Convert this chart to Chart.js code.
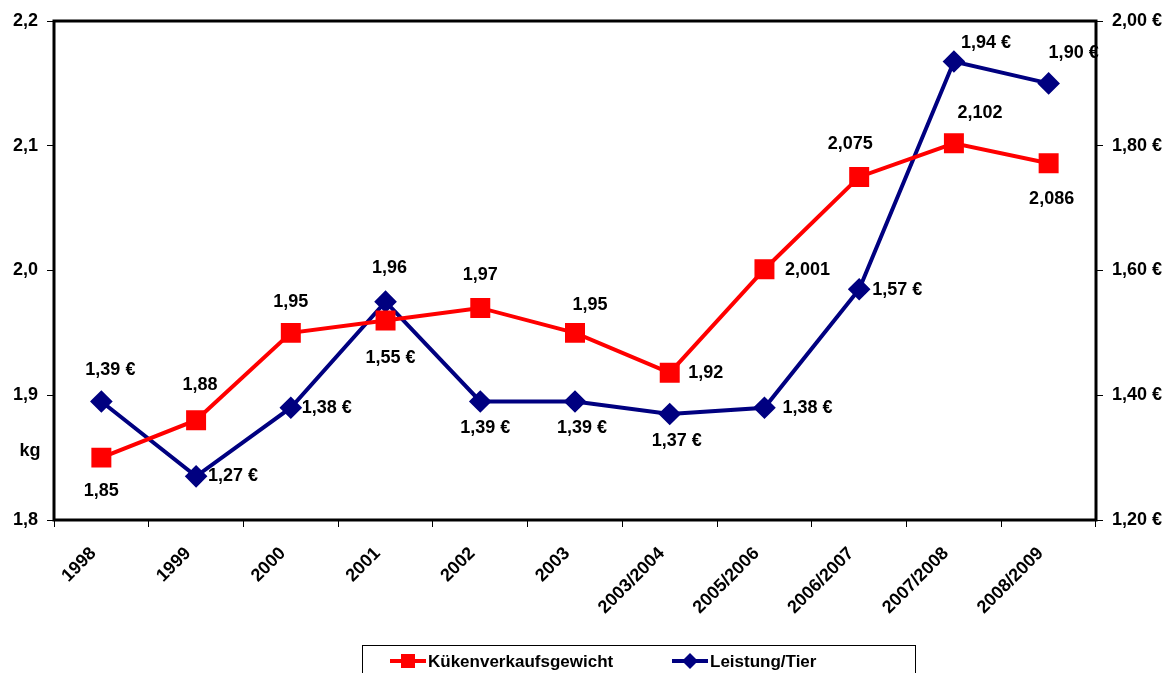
<!DOCTYPE html>
<html><head><meta charset="utf-8">
<script src="https://cdn.jsdelivr.net/npm/chart.js@4"></script>
<style>html,body{margin:0;padding:0;background:#fff}#wrap{width:1175px;height:673px}</style>
</head><body><div id="wrap"><canvas id="c" width="1175" height="673"></canvas></div>
<script>
const categories = ['1998','1999','2000','2001','2002','2003','2003/2004','2005/2006','2006/2007','2007/2008','2008/2009'];
const gewicht = [1.85, 1.88, 1.95, 1.96, 1.97, 1.95, 1.918, 2.001, 2.075, 2.102, 2.086];
const gewichtLabels = ['1,85','1,88','1,95','1,96','1,97','1,95','1,92','2,001','2,075','2,102','2,086'];
const leistung = [1.39, 1.27, 1.38, 1.55, 1.39, 1.39, 1.37, 1.38, 1.57, 1.935, 1.90];
const leistungLabels = ['1,39 €','1,27 €','1,38 €','1,55 €','1,39 €','1,39 €','1,37 €','1,38 €','1,57 €','1,94 €','1,90 €'];
const seriesNames = ['Kükenverkaufsgewicht','Leistung/Tier'];
const leftTicks = [1.8, 1.9, 2.0, 2.1, 2.2];
const rightTicks = [1.20, 1.40, 1.60, 1.80, 2.00];

const FAMILY = '"Liberation Sans", Arial, sans-serif';
const FONT = 'bold 18px ' + FAMILY;
const LEGEND_FONT = 'bold 17px ' + FAMILY;
const labelOffsets = [
  [[0,33],[4,-35],[0,-31],[4,-52],[0,-33],[15,-28],[36,0],[43,1],[-9,-33],[26,-30],[3,36]],
  [[9,-31],[37,0],[36,0],[5,56],[5,27],[7,27],[7,27],[43,0],[38,1],[32,-19],[25,-30]]
];
const labelTexts = [gewichtLabels, leistungLabels];

const framePlugin = {
  id:'frame',
  beforeDatasetsDraw(chart){
    const a = chart.chartArea, ctx = chart.ctx;
    ctx.save();
    ctx.strokeStyle = '#000'; ctx.lineWidth = 3;
    ctx.strokeRect(a.left, a.top, a.right - a.left, a.bottom - a.top);
    ctx.restore();
  },
  afterDraw(chart){
    const ctx = chart.ctx;
    ctx.save();
    ctx.font = FONT; ctx.fillStyle = '#000';
    ctx.textAlign = 'center'; ctx.textBaseline = 'middle';
    chart.data.datasets.forEach((ds, di) => {
      const meta = chart.getDatasetMeta(di);
      meta.data.forEach((pt, i) => {
        const o = labelOffsets[di][i];
        ctx.fillText(labelTexts[di][i], pt.x + o[0], pt.y + o[1]);
      });
    });
    ctx.fillText('kg', 30, 451);
    const lx = 362, ly = 645, lw = 553, lh = 40;
    ctx.strokeStyle = '#000'; ctx.lineWidth = 1;
    ctx.strokeRect(lx + 0.5, ly + 0.5, lw, lh);
    const items = [{x:390, ds:0}, {x:672, ds:1}];
    const cy = 661;
    ctx.font = LEGEND_FONT;
    items.forEach(it => {
      const ds = chart.data.datasets[it.ds];
      ctx.strokeStyle = ds.borderColor; ctx.lineWidth = 4;
      ctx.beginPath(); ctx.moveTo(it.x, cy); ctx.lineTo(it.x + 36, cy); ctx.stroke();
      ctx.fillStyle = ds.borderColor;
      const mx = it.x + 18;
      if (it.ds === 0) { ctx.fillRect(mx - 7, cy - 7, 14, 14); }
      else { ctx.beginPath(); ctx.moveTo(mx, cy - 8); ctx.lineTo(mx + 8, cy); ctx.lineTo(mx, cy + 8); ctx.lineTo(mx - 8, cy); ctx.closePath(); ctx.fill(); }
      ctx.fillStyle = '#000'; ctx.textAlign = 'left';
      ctx.fillText(ds.label, it.x + 38, cy + 1);
    });
    ctx.restore();
  }
};

new Chart(document.getElementById('c'), {
  type: 'line',
  data: {
    labels: categories,
    datasets: [
      { label: seriesNames[0], data: gewicht, yAxisID: 'y', borderColor: '#FF0000', backgroundColor: '#FF0000',
        borderWidth: 4, pointStyle: 'rect', pointRadius: 11.3, pointHoverRadius: 11.3, tension: 0 },
      { label: seriesNames[1], data: leistung, yAxisID: 'y1', borderColor: '#000080', backgroundColor: '#000080',
        borderWidth: 4, pointStyle: 'rectRot', pointRadius: 8.5, pointHoverRadius: 8.5, tension: 0 }
    ]
  },
  options: {
    responsive: false, animation: false, devicePixelRatio: 1,
    layout: { padding: { top: 21, left: 0, right: 0, bottom: 0 } },
    plugins: { legend: { display: false }, tooltip: { enabled: false } },
    scales: {
      x: {
        offset: true,
        grid: { offset: true, drawOnChartArea: false, color: '#000', tickLength: 7, lineWidth: 1 },
        border: { display: false },
        ticks: { font: { family: FAMILY, size: 18, weight: 'bold' }, color: '#000',
          maxRotation: 45, minRotation: 45, padding: 16, labelOffset: -8 },
        afterFit(s){ s.height = 153; }
      },
      y: {
        position: 'left', min: 1.8, max: 2.2,
        afterBuildTicks(s){ s.ticks = leftTicks.map(v => ({value: v})); },
        grid: { drawOnChartArea: false, color: '#000', tickLength: 7 },
        border: { display: false },
        ticks: { font: { family: FAMILY, size: 18, weight: 'bold' }, color: '#000', padding: 9,
          callback: v => v.toFixed(1).replace('.', ',') },
        afterFit(s){ s.width = 54; }
      },
      y1: {
        position: 'right', min: 1.2, max: 2.0,
        afterBuildTicks(s){ s.ticks = rightTicks.map(v => ({value: v})); },
        grid: { drawOnChartArea: false, color: '#000', tickLength: 7 },
        border: { display: false },
        ticks: { font: { family: FAMILY, size: 18, weight: 'bold' }, color: '#000', padding: 9,
          callback: v => v.toFixed(2).replace('.', ',') + ' €' },
        afterFit(s){ s.width = 79; }
      }
    }
  },
  plugins: [framePlugin]
});
</script>
</body></html>
